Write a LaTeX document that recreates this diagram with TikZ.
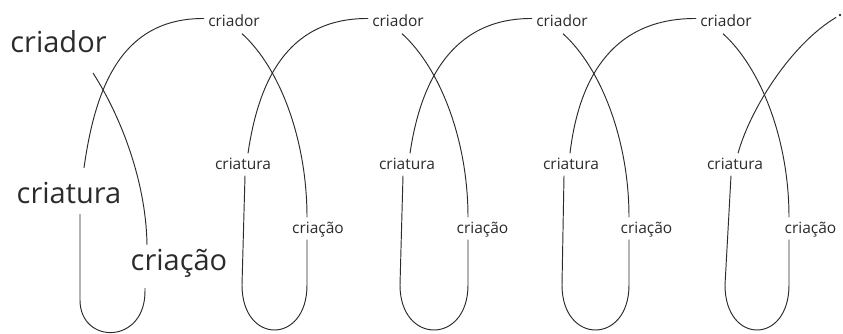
\documentclass[tikz,border=0pt]{standalone}
\usepackage{fontspec}
\setmainfont{Open Sans}
\usepackage{xcolor}
\usepackage{tikz}
\definecolor{inkgray}{HTML}{2B2B2B}
\tikzset{
  wordnode/.style={anchor=base,inner xsep=4pt,inner ysep=3pt,text=inkgray,text height=12.5pt,text depth=3.5pt,font=\fontsize{15.5}{18}\selectfont},
  bigword/.style={wordnode,text height=23pt,text depth=7pt,font=\fontsize{29}{34}\selectfont},
  coil/.style={draw=inkgray,line width=0.95pt},
  enddot/.style={circle,fill=inkgray,inner sep=0pt,minimum size=2.8pt,outer sep=3pt},
}

\begin{document}
\begin{tikzpicture}[x=1pt,y=-1pt]
  \useasboundingbox (0,0) rectangle (843,334);
  \node[bigword] (nBigCd) at (58.5,53) {criador};
  \node[bigword] (nBigCt) at (69,203) {criatura};
  \node[bigword] (nBigCc) at (179,270) {criação};
  \node[wordnode] (nCd0) at (234,27) {criador};
  \node[wordnode] (nCd1) at (398,27) {criador};
  \node[wordnode] (nCd2) at (562,27) {criador};
  \node[wordnode] (nCd3) at (726,27) {criador};
  \node[wordnode] (nCt0) at (243,169) {criatura};
  \node[wordnode] (nCt1) at (407,169) {criatura};
  \node[wordnode] (nCt2) at (571,169) {criatura};
  \node[wordnode] (nCt3) at (735,169) {criatura};
  \node[wordnode] (nCc0) at (318,233) {criação};
  \node[wordnode] (nCc1) at (482.5,233) {criação};
  \node[wordnode] (nCc2) at (646.5,233) {criação};
  \node[wordnode] (nCc3) at (810.5,233) {criação};
  \node[enddot] (nDot) at (840,15) {};
  \coordinate (cStart) at (93,73);
  % first turn, round the big words
  \draw[coil] (cStart) .. controls (120,115) and (146,180) .. ([xshift=-32pt,yshift=-1pt]nBigCc.north);
  \draw[coil] ([xshift=-34pt,yshift=-8pt]nBigCc.south) -- (145,290) .. controls (146,345) and (80,345) .. (80,300) -- ([xshift=11pt,yshift=-1pt]nBigCt.south);
  \draw[coil] ([xshift=15pt,yshift=9pt]nBigCt.north) .. controls (95,90) and (120,18) .. ([yshift=4pt]nCd0.west);
  % loop 0
  \draw[coil] ([xshift=8pt]nCd0.south) .. controls (280,68) and (307,140) .. ([xshift=-11pt]nCc0.north);
  \draw[coil] ([xshift=-11pt]nCc0.south) -- (307,285) .. controls (307,345) and (242,345) .. (242,285) -- ([xshift=2pt]nCt0.south);
  \draw[coil] ([xshift=5pt]nCt0.north) .. controls (258,85) and (285,18) .. ([yshift=4pt]nCd1.west);
  % loop 1
  \draw[coil] ([xshift=4pt]nCd1.south) .. controls (440,68) and (468,140) .. ([xshift=-14.5pt]nCc1.north);
  \draw[coil] ([xshift=-14.5pt]nCc1.south) -- (468,285) .. controls (468,345) and (400,345) .. (400,285) -- ([xshift=-4pt]nCt1.south);
  \draw[coil] ([xshift=3pt]nCt1.north) .. controls (420,85) and (450,18) .. ([yshift=4pt]nCd2.west);
  % loop 2
  \draw[coil] ([xshift=1pt]nCd2.south) .. controls (601,68) and (629,140) .. ([xshift=-17.5pt]nCc2.north);
  \draw[coil] ([xshift=-17.5pt]nCc2.south) -- (629,285) .. controls (629,345) and (562,345) .. (562,285) -- ([xshift=-7pt]nCt2.south);
  \draw[coil] ([xshift=-1pt]nCt2.north) .. controls (578,85) and (608,18) .. ([yshift=4pt]nCd3.west);
  % loop 3, open end
  \draw[coil] ([xshift=-3pt]nCd3.south) .. controls (761,68) and (789,140) .. ([xshift=-21.5pt]nCc3.north);
  \draw[coil] ([xshift=-21.5pt]nCc3.south) -- (789,285) .. controls (789,345) and (725,345) .. (725,285) -- ([xshift=-4pt]nCt3.south);
  \draw[coil] ([xshift=3pt]nCt3.north) .. controls (750,110) and (790,45) .. (nDot);
\end{tikzpicture}
\end{document}
